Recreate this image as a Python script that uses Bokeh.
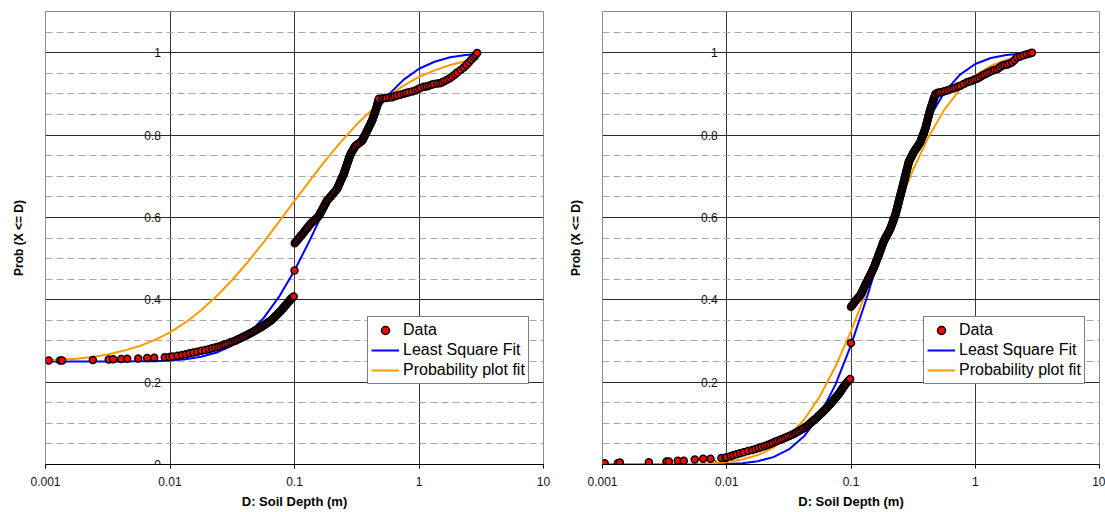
from bokeh.plotting import figure
from bokeh.models import Range1d, FixedTicker, Legend, LegendItem
from bokeh.layouts import row
from bokeh.embed import file_html
from bokeh.resources import INLINE
from bokeh.core.properties import value

FONT = "Liberation Sans"

# ---------------- axes / ticks ----------------
x_ticks = [0.001, 0.01, 0.1, 1, 10]
x_tick_labels = ["0.001", "0.01", "0.1", "1", "10"]
y_ticks = [0, 0.2, 0.4, 0.6, 0.8, 1.0]
y_tick_labels = ["0", "0.2", "0.4", "0.6", "0.8", "1"]
y_minor_ticks = [0.05, 0.1, 0.15, 0.25, 0.3, 0.35, 0.45, 0.5, 0.55,
                 0.65, 0.7, 0.75, 0.85, 0.9, 0.95, 1.05]
y_axis_cross = 0.01
series_names = ["Data", "Least Square Fit", "Probability plot fit"]

# ---------------- left panel: data ----------------
left_depth = [
    0.00106, 0.00131, 0.00136, 0.0024, 0.00322, 0.0035, 0.00406, 0.00453, 0.00556, 0.00656,
    0.00747, 0.00908, 0.0099,
    0.0105, 0.0115, 0.0125, 0.01343, 0.0144, 0.01545, 0.0166, 0.01788, 0.01928, 0.02056,
    0.02173, 0.0230, 0.0243, 0.02553, 0.02667, 0.0278, 0.02904, 0.03034, 0.03162, 0.033,
    0.03412, 0.03524, 0.0364, 0.0375, 0.0387, 0.04, 0.0413, 0.04256, 0.04375, 0.04498,
    0.04624, 0.04753, 0.04887, 0.0501, 0.0515, 0.053, 0.0542, 0.05546, 0.05675, 0.05807,
    0.0594, 0.0607, 0.0621, 0.0635, 0.065, 0.0661, 0.0670, 0.0681, 0.0692, 0.0702,
    0.0713, 0.0724, 0.0735, 0.0746, 0.0758, 0.077, 0.0780, 0.0791, 0.0800, 0.0811,
    0.0822, 0.0834, 0.0845, 0.0857, 0.0867, 0.088, 0.0891, 0.0902, 0.0913, 0.0924,
    0.0937, 0.095, 0.0967, 0.0985,
    0.1,
    0.1005, 0.1024, 0.1043, 0.1062, 0.1082, 0.1102, 0.1124, 0.1146, 0.1167, 0.1189,
    0.1211, 0.1233, 0.1256, 0.1279, 0.1303, 0.1330, 0.1355, 0.1387, 0.1419, 0.1452,
    0.1489, 0.1524, 0.1560, 0.1585, 0.1603, 0.1622, 0.1644, 0.1663, 0.1683, 0.1706,
    0.1726, 0.1746, 0.1770, 0.1791, 0.1811, 0.1841, 0.1879, 0.1914, 0.1954, 0.1991,
    0.2032, 0.2070, 0.2113, 0.2153, 0.2198, 0.2218, 0.2244, 0.2265, 0.2291, 0.2312,
    0.2333, 0.2360, 0.2382, 0.2404, 0.2432, 0.2455, 0.2483, 0.2500, 0.2523, 0.2541,
    0.2559, 0.2582, 0.2600, 0.2624, 0.2642, 0.2661, 0.2685, 0.2704, 0.2723, 0.2748,
    0.2767, 0.2793, 0.2812, 0.2844, 0.2884, 0.2924, 0.2965, 0.3006, 0.3048, 0.3090,
    0.3188, 0.3289, 0.3393, 0.3499, 0.3540, 0.3581, 0.3614, 0.3656, 0.3698, 0.3741,
    0.3784, 0.3819, 0.3864, 0.3908, 0.3954, 0.3999, 0.4046, 0.4093, 0.4140, 0.4188,
    0.4227, 0.4256, 0.4295, 0.4325, 0.4355, 0.4395, 0.4426, 0.4467, 0.4498, 0.4529,
    0.4560, 0.4592, 0.4624, 0.4645, 0.4677, 0.4710, 0.4742, 0.4764,
    0.506, 0.527, 0.548, 0.578, 0.610, 0.638, 0.668, 0.71, 0.755, 0.79,
    0.828, 0.88, 0.937, 0.98, 1.028, 1.094, 1.15, 1.20, 1.26, 1.315,
    1.40, 1.47, 1.535, 1.61, 1.683, 1.77, 1.85, 1.94, 2.03, 2.16,
    2.29, 2.40, 2.51, 2.63, 2.75, 2.84, 2.93,
]
left_prob = [
    0.2524, 0.2524, 0.2528, 0.2540, 0.2550, 0.2555, 0.2560, 0.2565, 0.2575, 0.2585,
    0.2595, 0.2605, 0.2612,
    0.262, 0.264, 0.266, 0.268, 0.270, 0.272, 0.274, 0.276, 0.278, 0.280,
    0.282, 0.284, 0.286, 0.288, 0.290, 0.292, 0.294, 0.296, 0.298, 0.300,
    0.302, 0.304, 0.306, 0.308, 0.310, 0.312, 0.314, 0.316, 0.318, 0.320,
    0.322, 0.324, 0.326, 0.328, 0.330, 0.332, 0.334, 0.336, 0.338, 0.340,
    0.342, 0.344, 0.346, 0.348, 0.350, 0.352, 0.354, 0.356, 0.358, 0.360,
    0.362, 0.364, 0.366, 0.368, 0.370, 0.372, 0.374, 0.376, 0.378, 0.380,
    0.382, 0.384, 0.386, 0.388, 0.390, 0.392, 0.394, 0.396, 0.398, 0.400,
    0.402, 0.404, 0.406, 0.408,
    0.471,
    0.537, 0.540, 0.543, 0.546, 0.549, 0.552, 0.555, 0.558, 0.561, 0.564,
    0.567, 0.570, 0.573, 0.576, 0.579, 0.582, 0.585, 0.588, 0.591, 0.594,
    0.597, 0.600, 0.603, 0.606, 0.609, 0.612, 0.615, 0.618, 0.621, 0.624,
    0.627, 0.630, 0.633, 0.636, 0.639, 0.642, 0.645, 0.648, 0.651, 0.654,
    0.657, 0.660, 0.663, 0.666, 0.669, 0.672, 0.675, 0.678, 0.681, 0.684,
    0.687, 0.690, 0.693, 0.696, 0.699, 0.702, 0.705, 0.708, 0.711, 0.714,
    0.717, 0.720, 0.723, 0.726, 0.729, 0.732, 0.735, 0.738, 0.741, 0.744,
    0.747, 0.750, 0.753, 0.756, 0.759, 0.762, 0.765, 0.768, 0.771, 0.774,
    0.777, 0.780, 0.783, 0.786, 0.789, 0.792, 0.795, 0.798, 0.801, 0.804,
    0.807, 0.810, 0.813, 0.816, 0.819, 0.822, 0.825, 0.828, 0.831, 0.834,
    0.837, 0.840, 0.843, 0.846, 0.849, 0.852, 0.855, 0.858, 0.861, 0.864,
    0.867, 0.870, 0.873, 0.876, 0.879, 0.882, 0.885, 0.888,
    0.889, 0.890, 0.890, 0.891, 0.892, 0.894, 0.896, 0.898, 0.900, 0.902,
    0.904, 0.906, 0.908, 0.911, 0.914, 0.917, 0.918, 0.920, 0.922, 0.924,
    0.925, 0.926, 0.928, 0.931, 0.934, 0.938, 0.942, 0.947, 0.952, 0.958,
    0.964, 0.970, 0.976, 0.983, 0.989, 0.994, 0.999,
]

# ---------------- fitted curves ----------------
fit_depth = [0.001, 0.001334, 0.001778, 0.002371, 0.003162, 0.004217, 0.005623, 0.007499,
             0.01, 0.01334, 0.01778, 0.02371, 0.03162, 0.04217, 0.05623, 0.07499,
             0.1, 0.1334, 0.1778, 0.2371, 0.3162, 0.4217, 0.5623, 0.7499,
             1.0, 1.334, 1.778, 2.371, 3.0]
left_lsq_prob = [0.250, 0.250, 0.250, 0.250, 0.250, 0.250, 0.2505, 0.251,
                 0.2526, 0.2556, 0.2615, 0.272, 0.289, 0.316, 0.355, 0.407,
                 0.471, 0.546, 0.626, 0.706, 0.780, 0.844, 0.896, 0.934,
                 0.961, 0.978, 0.989, 0.9945, 0.997]
left_ppf_prob = [0.253, 0.255, 0.257, 0.261, 0.267, 0.276, 0.287, 0.302,
                 0.321, 0.345, 0.3745, 0.409, 0.448, 0.492, 0.539, 0.589,
                 0.640, 0.690, 0.739, 0.784, 0.826, 0.862, 0.893, 0.920,
                 0.941, 0.957, 0.970, 0.979, 0.985]
right_lsq_prob = [0.0, 0.0, 0.0, 0.0, 0.0, 0.0, 0.0001, 0.0004,
                  0.0012, 0.0033, 0.008, 0.0179, 0.0367, 0.0693, 0.1206, 0.194,
                  0.290, 0.403, 0.5255, 0.645, 0.752, 0.839, 0.903, 0.946,
                  0.9725, 0.987, 0.9944, 0.9978, 0.999]
right_ppf_prob = [0.0, 0.0, 0.0, 0.0001, 0.0002, 0.0005, 0.0013, 0.0028,
                  0.0061, 0.0121, 0.023, 0.041, 0.069, 0.110, 0.166, 0.238,
                  0.324, 0.421, 0.523, 0.623, 0.716, 0.796, 0.861, 0.910,
                  0.945, 0.968, 0.983, 0.991, 0.995]

# ---------------- right panel: data ----------------
right_depth = [
    0.00104, 0.00133, 0.00138, 0.00236, 0.00327, 0.00342, 0.00403, 0.00451, 0.00553, 0.00646,
    0.0074, 0.00906, 0.00976,
    0.00997, 0.01072, 0.01127, 0.0120, 0.0128, 0.01371, 0.01483, 0.01603, 0.01706, 0.01807,
    0.0191, 0.0202, 0.0213, 0.0223, 0.0234, 0.0245, 0.0257, 0.0270, 0.0282, 0.0295,
    0.0308, 0.0322, 0.0337, 0.0351, 0.0362, 0.0374, 0.0386, 0.0399, 0.0412, 0.0426,
    0.0440, 0.0450, 0.0460, 0.0470, 0.0480, 0.0491, 0.0501, 0.0512, 0.0524, 0.0535,
    0.0546, 0.0558, 0.0570, 0.0581, 0.0592, 0.0603, 0.0614, 0.0625, 0.0637, 0.0649,
    0.0661, 0.0673, 0.0684, 0.0695, 0.0706, 0.0718, 0.0729, 0.0741, 0.0753, 0.0766,
    0.0778, 0.0791, 0.0802, 0.0813, 0.0824, 0.0834, 0.0845, 0.0855, 0.0867, 0.0879,
    0.0889, 0.0902, 0.0918, 0.0933, 0.0951, 0.0968, 0.0984,
    0.1,
    0.1000, 0.1019, 0.1038, 0.1057, 0.1074, 0.1094, 0.1114, 0.1135, 0.1156, 0.1178,
    0.1197, 0.1211, 0.1225, 0.1239, 0.1253, 0.1268, 0.1282, 0.1294, 0.1309, 0.1324,
    0.1340, 0.1355, 0.1371, 0.1387, 0.1403, 0.1419, 0.1432, 0.1449, 0.1466, 0.1483,
    0.1500, 0.1514, 0.1531, 0.1545, 0.1560, 0.1574, 0.1585, 0.1600, 0.1614, 0.1629,
    0.1644, 0.1656, 0.1671, 0.1687, 0.1698, 0.1714, 0.1730, 0.1742, 0.1758, 0.1770,
    0.1786, 0.1803, 0.1816, 0.1837, 0.1858, 0.1879, 0.1901, 0.1923, 0.1950, 0.1972,
    0.1995, 0.2018, 0.2042, 0.2065, 0.2084, 0.2104, 0.2123, 0.2138, 0.2158, 0.2178,
    0.2193, 0.2213, 0.2234, 0.2249, 0.2270, 0.2286, 0.2296, 0.2312, 0.2323, 0.2339,
    0.2355, 0.2366, 0.2382, 0.2393, 0.2410, 0.2421, 0.2438, 0.2449, 0.2466, 0.2477,
    0.2495, 0.2512, 0.2523, 0.2541, 0.2553, 0.2570, 0.2582, 0.2600, 0.2612, 0.2630,
    0.2642, 0.2661, 0.2679, 0.2692, 0.2710, 0.2723, 0.2742, 0.2754, 0.2767, 0.2786,
    0.2799, 0.2818, 0.2831, 0.2851, 0.2864, 0.2884, 0.2897, 0.2911, 0.2944, 0.2979,
    0.3013, 0.3048, 0.3083, 0.3119, 0.3155, 0.3192, 0.3240, 0.3289, 0.3339, 0.3388,
    0.3440, 0.3491, 0.3544, 0.3597, 0.3635, 0.3664, 0.3698, 0.3733, 0.3767, 0.3793,
    0.3828, 0.3864, 0.3899, 0.3926, 0.3963, 0.3986, 0.4009, 0.4032, 0.4055, 0.4083,
    0.4102, 0.4126, 0.4150, 0.4174, 0.4198, 0.4227, 0.4256, 0.4285, 0.4305, 0.4335,
    0.4365, 0.4395, 0.4426, 0.4457, 0.4487, 0.4519, 0.4560, 0.4592, 0.4624, 0.4667,
    0.4699, 0.4742, 0.4775,
    0.493, 0.508, 0.524, 0.549, 0.574, 0.602, 0.631, 0.661, 0.692, 0.725,
    0.759, 0.807, 0.859, 0.90, 0.942, 0.986, 1.033, 1.082, 1.134, 1.188,
    1.244, 1.303, 1.365, 1.43, 1.497, 1.57, 1.642, 1.72, 1.80, 1.89,
    1.98, 2.07, 2.17, 2.31, 2.45, 2.60, 2.75, 2.86,
]
right_prob = [
    0.003, 0.003, 0.005, 0.0056, 0.007, 0.007, 0.009, 0.009, 0.012, 0.0137,
    0.014, 0.016, 0.016,
    0.0175, 0.0200, 0.0225, 0.0250, 0.0275, 0.0300, 0.0325, 0.0350, 0.0375, 0.0400,
    0.0425, 0.0450, 0.0475, 0.0500, 0.0525, 0.0550, 0.0575, 0.0600, 0.0625, 0.0650,
    0.0675, 0.0700, 0.0725, 0.0750, 0.0775, 0.0800, 0.0825, 0.0850, 0.0875, 0.0900,
    0.0925, 0.0950, 0.0975, 0.1000, 0.1025, 0.1050, 0.1075, 0.1100, 0.1125, 0.1150,
    0.1175, 0.1200, 0.1225, 0.1250, 0.1275, 0.1300, 0.1325, 0.1350, 0.1375, 0.1400,
    0.1425, 0.1450, 0.1475, 0.1500, 0.1525, 0.1550, 0.1575, 0.1600, 0.1625, 0.1650,
    0.1675, 0.1700, 0.1725, 0.1750, 0.1775, 0.1800, 0.1825, 0.1850, 0.1875, 0.1900,
    0.1925, 0.1950, 0.1975, 0.2000, 0.2025, 0.2050, 0.2075,
    0.295,
    0.383, 0.386, 0.389, 0.392, 0.395, 0.398, 0.401, 0.404, 0.407, 0.410,
    0.413, 0.416, 0.419, 0.422, 0.425, 0.428, 0.431, 0.434, 0.437, 0.440,
    0.443, 0.446, 0.449, 0.452, 0.455, 0.458, 0.461, 0.464, 0.467, 0.470,
    0.473, 0.476, 0.479, 0.482, 0.485, 0.488, 0.491, 0.494, 0.497, 0.500,
    0.503, 0.506, 0.509, 0.512, 0.515, 0.518, 0.521, 0.524, 0.527, 0.530,
    0.533, 0.536, 0.539, 0.542, 0.545, 0.548, 0.551, 0.554, 0.557, 0.560,
    0.563, 0.566, 0.569, 0.572, 0.575, 0.578, 0.581, 0.584, 0.587, 0.590,
    0.593, 0.596, 0.599, 0.602, 0.605, 0.608, 0.611, 0.614, 0.617, 0.620,
    0.623, 0.626, 0.629, 0.632, 0.635, 0.638, 0.641, 0.644, 0.647, 0.650,
    0.653, 0.656, 0.659, 0.662, 0.665, 0.668, 0.671, 0.674, 0.677, 0.680,
    0.683, 0.686, 0.689, 0.692, 0.695, 0.698, 0.701, 0.704, 0.707, 0.710,
    0.713, 0.716, 0.719, 0.722, 0.725, 0.728, 0.731, 0.734, 0.737, 0.740,
    0.743, 0.746, 0.749, 0.752, 0.755, 0.758, 0.761, 0.764, 0.767, 0.770,
    0.773, 0.776, 0.779, 0.782, 0.785, 0.788, 0.791, 0.794, 0.797, 0.800,
    0.803, 0.806, 0.809, 0.812, 0.815, 0.818, 0.821, 0.824, 0.827, 0.830,
    0.833, 0.836, 0.839, 0.842, 0.845, 0.848, 0.851, 0.854, 0.857, 0.860,
    0.863, 0.866, 0.869, 0.872, 0.875, 0.878, 0.881, 0.884, 0.887, 0.890,
    0.893, 0.896, 0.899,
    0.902, 0.903, 0.904, 0.905, 0.907, 0.909, 0.911, 0.913, 0.915, 0.918,
    0.920, 0.924, 0.928, 0.930, 0.932, 0.935, 0.937, 0.940, 0.944, 0.947,
    0.950, 0.953, 0.956, 0.958, 0.960, 0.964, 0.968, 0.970, 0.971, 0.974,
    0.977, 0.982, 0.988, 0.991, 0.994, 0.996, 0.998, 1.000,
]


def make_panel(depth, prob, lsq_y, ppf_y, width, border_left, border_right,
               border_top, legend_loc):
    p = figure(width=width, height=512, x_axis_type="log",
               x_range=Range1d(0.001, 10), y_range=Range1d(0, 1.1),
               output_backend="svg", toolbar_location=None,
               min_border_left=border_left, min_border_right=border_right,
               min_border_top=border_top, min_border_bottom=48)
    p.background_fill_color = "white"
    p.border_fill_color = "white"
    p.outline_line_color = "#8c8c8c"
    p.outline_line_width = 1

    # grids
    p.xgrid.ticker = FixedTicker(ticks=x_ticks[1:-1])
    p.xgrid.grid_line_color = "#3a3a3a"
    p.xgrid.grid_line_width = 1
    p.ygrid.ticker = FixedTicker(ticks=y_ticks, minor_ticks=y_minor_ticks)
    p.ygrid.grid_line_color = "#2a2a2a"
    p.ygrid.grid_line_width = 1
    p.ygrid.minor_grid_line_color = "#a8a8a8"
    p.ygrid.minor_grid_line_dash = "7 4"
    p.ygrid.minor_grid_line_width = 1

    # x axis (bottom)
    xa = p.xaxis[0]
    xa.ticker = FixedTicker(ticks=x_ticks)
    xa.major_label_overrides = dict(zip(x_ticks, x_tick_labels))
    xa.axis_line_color = "black"
    xa.major_tick_line_color = "black"
    xa.major_tick_out = 4
    xa.major_tick_in = 0
    xa.minor_tick_line_color = None
    xa.major_label_standoff = 8
    xa.major_label_text_font = FONT
    xa.major_label_text_font_size = "12px"
    xa.major_label_text_color = "#111111"
    xa.axis_label = "D: Soil Depth (m)"
    xa.axis_label_text_font = FONT
    xa.axis_label_text_font_size = "13px"
    xa.axis_label_text_font_style = "bold"
    xa.axis_label_text_color = "black"
    xa.axis_label_standoff = 5

    # y axis: only the title lives outside; labels sit on the crossing line
    ya = p.yaxis[0]
    ya.ticker = FixedTicker(ticks=[])
    ya.axis_line_color = None
    ya.major_tick_line_color = None
    ya.minor_tick_line_color = None
    ya.major_tick_out = 0
    ya.major_tick_in = 0
    ya.major_label_standoff = 0
    ya.axis_label = "Prob (X <= D)"
    ya.axis_label_text_font = FONT
    ya.axis_label_text_font_size = "12px"
    ya.axis_label_text_font_style = "bold"
    ya.axis_label_text_color = "black"
    ya.axis_label_standoff = 20

    p.text(x=[y_axis_cross] * len(y_ticks), y=y_ticks, text=y_tick_labels,
           x_offset=-9, text_align="right", text_baseline="middle",
           text_font=value(FONT), text_font_size="12px", text_color="#111111")

    r_lsq = p.line(fit_depth, lsq_y, line_color="#0000ff", line_width=2)
    r_ppf = p.line(fit_depth, ppf_y, line_color="#ff9900", line_width=2)
    r_data = p.scatter(depth, prob, marker="circle", size=7,
                       fill_color="#ff0000", line_color="black", line_width=1.5)

    legend = Legend(items=[
        LegendItem(label=series_names[0], renderers=[r_data]),
        LegendItem(label=series_names[1], renderers=[r_lsq]),
        LegendItem(label=series_names[2], renderers=[r_ppf]),
    ], location=legend_loc)
    legend.label_text_font = FONT
    legend.label_text_font_size = "16px"
    legend.label_text_color = "black"
    legend.glyph_width = 28
    legend.glyph_height = 20
    legend.label_height = 20
    legend.spacing = 0
    legend.padding = 3
    legend.margin = 0
    legend.label_standoff = 4
    legend.border_line_color = "black"
    legend.border_line_width = 1
    legend.background_fill_color = "white"
    legend.background_fill_alpha = 1
    p.add_layout(legend)
    return p


left = make_panel(left_depth, left_prob, left_lsq_prob, left_ppf_prob,
                  width=560, border_left=45, border_right=17, border_top=11,
                  legend_loc=(322, 80))
right = make_panel(right_depth, right_prob, right_lsq_prob, right_ppf_prob,
                   width=545, border_left=42, border_right=6, border_top=8,
                   legend_loc=(321, 80))

layout = row(left, right)
open("out.html", "w").write(file_html(layout, INLINE))
